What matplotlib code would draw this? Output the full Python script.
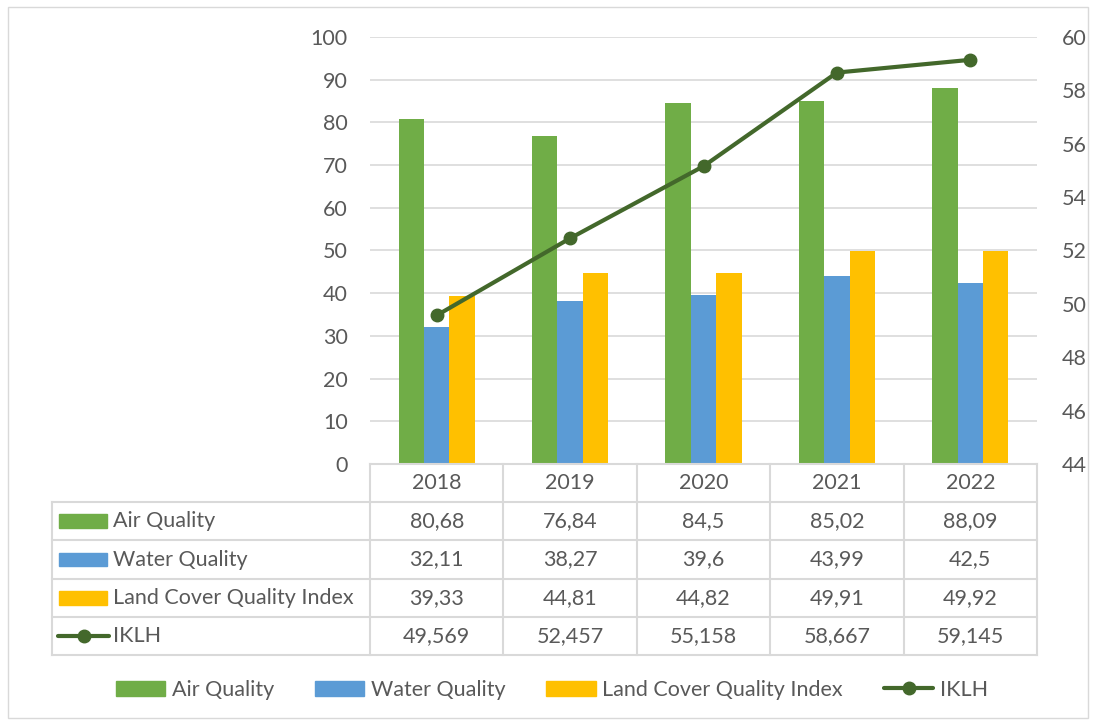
import matplotlib
matplotlib.use('Agg')
import matplotlib.pyplot as plt
from matplotlib.patches import Rectangle
from matplotlib.lines import Line2D
import numpy as np

plt.rcParams['font.family'] = ['Lato', 'DejaVu Sans']

years = ['2018', '2019', '2020', '2021', '2022']
air = [80.68, 76.84, 84.5, 85.02, 88.09]
water = [32.11, 38.27, 39.6, 43.99, 42.5]
land = [39.33, 44.81, 44.82, 49.91, 49.92]
iklh = [49.569, 52.457, 55.158, 58.667, 59.145]

air_txt = ['80,68', '76,84', '84,5', '85,02', '88,09']
water_txt = ['32,11', '38,27', '39,6', '43,99', '42,5']
land_txt = ['39,33', '44,81', '44,82', '49,91', '49,92']
iklh_txt = ['49,569', '52,457', '55,158', '58,667', '59,145']

c_air = '#70AD47'
c_water = '#5B9BD5'
c_land = '#FFC000'
c_line = '#43682B'
c_text = '#595959'
c_grid = '#D9D9D9'
fs = 15.5

W, H = 1093, 722
fig = plt.figure(figsize=(W / 100, H / 100), dpi=100)


def box(x0, y0, x1, y1):
    # pixel box (top-left origin) -> figure fractions
    return [x0 / W, 1 - y1 / H, (x1 - x0) / W, (y1 - y0) / H]


# outer chart border
fig.patches.append(Rectangle((8 / W, 1 - 718 / H), 1080 / W, 711 / H,
                             transform=fig.transFigure, fill=False,
                             edgecolor=c_grid, lw=1))

ax = fig.add_axes(box(370, 37, 1037, 464))
x = np.arange(len(years))
bw = 0.19
ax.bar(x - bw, air, bw, color=c_air, zorder=2)
ax.bar(x, water, bw, color=c_water, zorder=2)
ax.bar(x + bw, land, bw, color=c_land, zorder=2)
ax.set_xlim(-0.5, 4.5)
ax.set_ylim(0, 100)
ax.set_yticks(range(0, 101, 10))
ax.yaxis.grid(True, color=c_grid, lw=1.2, zorder=0)
ax.set_axisbelow(True)
for s in ax.spines.values():
    s.set_visible(False)
ax.set_xticks([])
ax.tick_params(axis='y', length=0, labelsize=fs, labelcolor=c_text, pad=16)

ax2 = ax.twinx()
ax2.plot(x, iklh, color=c_line, lw=3, marker='o', ms=9, zorder=3)
ax2.set_ylim(44, 60)
ax2.set_yticks(range(44, 61, 2))
for s in ax2.spines.values():
    s.set_visible(False)
ax2.tick_params(axis='y', length=0, labelsize=fs, labelcolor=c_text, pad=18)

# data table below the plot
tab = fig.add_axes(box(52, 464, 1037, 655))
unit = 667 / 5
left = -0.5 - (370 - 52) / unit
tab.set_xlim(left, 4.5)
tab.set_ylim(5, 0)
tab.axis('off')
lkw = dict(color=c_grid, lw=1.5, clip_on=False)
# header row
tab.plot([-0.5, 4.5], [0, 0], **lkw)
for i in range(6):
    tab.plot([i - 0.5, i - 0.5], [0, 5], **lkw)
tab.plot([left, left], [1, 5], **lkw)
for r in range(1, 6):
    tab.plot([left, 4.5], [r, r], **lkw)
for i, yr in enumerate(years):
    tab.text(i, 0.5, yr, ha='center', va='center', fontsize=fs, color=c_text)

rows = [('Air Quality', air_txt, c_air, 'bar'),
        ('Water Quality', water_txt, c_water, 'bar'),
        ('Land Cover Quality Index', land_txt, c_land, 'bar'),
        ('IKLH', iklh_txt, c_line, 'line')]
for r, (name, vals, col, kind) in enumerate(rows, start=1):
    if kind == 'bar':
        k0 = left + 7 / unit
        k1 = left + 55 / unit
        tab.add_patch(Rectangle((k0, r + 0.32), k1 - k0, 0.36, color=col,
                                clip_on=False))
    else:
        k0 = left + 6 / unit
        k1 = left + 57 / unit
        tab.plot([k0, k1], [r + 0.5, r + 0.5], color=col, lw=3,
                 solid_capstyle='round', clip_on=False)
        tab.plot([(k0 + k1) / 2], [r + 0.5], 'o', color=col, ms=9,
                 clip_on=False)
    tab.text(left + 61 / unit, r + 0.5, name, ha='left', va='center',
             fontsize=fs, color=c_text)
    for i, v in enumerate(vals):
        tab.text(i, r + 0.5, v, ha='center', va='center', fontsize=fs,
                 color=c_text)

# legend
handles = [Rectangle((0, 0), 1, 1, color=c_air),
           Rectangle((0, 0), 1, 1, color=c_water),
           Rectangle((0, 0), 1, 1, color=c_land),
           Line2D([], [], color=c_line, lw=3, marker='o', ms=9,
                  solid_capstyle='round')]
labels = ['Air Quality', 'Water Quality', 'Land Cover Quality Index', 'IKLH']
leg = fig.legend(handles, labels, loc='center', ncol=4,
                 bbox_to_anchor=(0.505, 1 - 690 / H), frameon=False,
                 fontsize=fs, handlelength=2.3, handleheight=0.75,
                 columnspacing=1.9, handletextpad=0.3)
for t in leg.get_texts():
    t.set_color(c_text)

fig.savefig('out.png', dpi=100)
